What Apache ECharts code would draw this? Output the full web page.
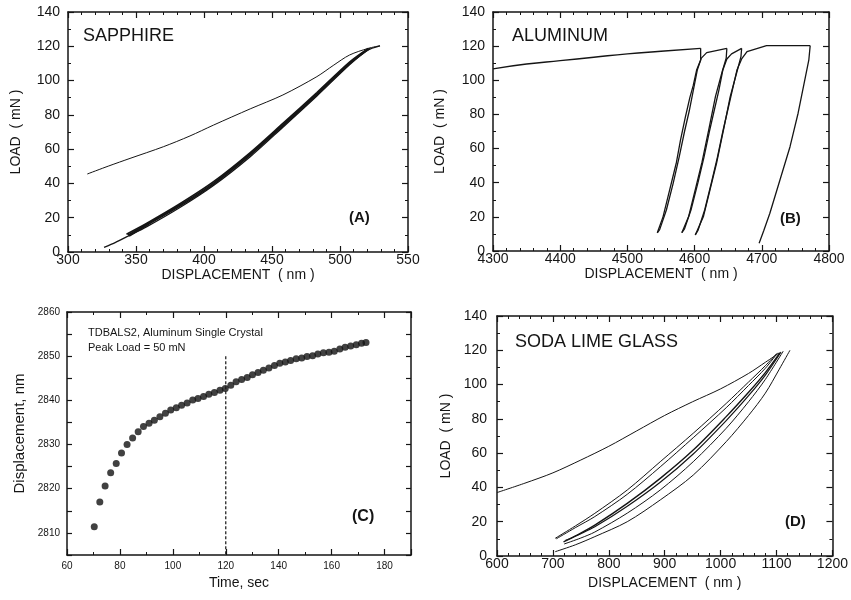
<!DOCTYPE html>
<html>
<head>
    <meta charset="utf-8">
    <title>Indentation load-displacement</title>
    <script src="https://cdn.jsdelivr.net/npm/echarts@6/dist/echarts.min.js"></script>
    <style>
        html, body { margin: 0; padding: 0; background: #fff; }
        #chart { width: 851px; height: 600px; }
    </style>
</head>
<body>
<div id="chart"></div>
<script>
    // (A) sapphire: loading line + unload/reload band
    var sapphireLoad = [[314.2,45.5],[330,50.2],[345.6,54.6],[370.1,61.4],[389.7,67.7],[406.9,74],[434,83.5],[458,91.6],[483,102.3],[495,108.8],[507,114.9],[520.8,118.8],[529.4,120.3]];
    var sapphireUnload1 = [[326.5,2.7],[335,5.6],[343,8.8],[358,14.8],[382,25.8],[407,38.8],[434,55.6],[458,72.8],[483,91],[507,109.2],[520,117.6],[529.4,120.3]];
    var sapphireUnload2 = [[343,10.4],[358,16.8],[382,28],[407,41],[434,58],[458,75],[483,93],[507,110.8],[520.8,118.8]];
    var sapphireUnload3 = [[344,9.8],[358,16.2],[382,27.3],[407,40.2],[434,57.2],[458,74.2],[483,92.2],[507,110.2],[521,118.6]];
    var sapphireUnload4 = [[345,9.3],[358,15.6],[382,26.6],[407,39.5],[434,56.5],[458,73.5],[483,91.6],[507,109.7],[522,118.8]];

    // (B) aluminum: creep holds + three unload/reload loops + final unload
    var aluminumLoad = [[4300,106.7],[4350,109.5],[4400,111.5],[4450,113.5],[4500,115.5],[4550,117],[4609,118.7]];
    var aluminumUnload1 = [[4609,118.7],[4609,111.9],[4603,106],[4598,97],[4593,90],[4586,78],[4579,65],[4573,52],[4563,36],[4553,20],[4544.5,10.7]];
    var aluminumReload1 = [[4544.5,10.7],[4548,12.5],[4558,24],[4568,39.5],[4577,55],[4585,70],[4592,82],[4598,94],[4604,106],[4610,113],[4618,116.2],[4648,118.7]];
    var aluminumUnload2 = [[4648,118.7],[4647,112.9],[4641,105],[4631,90.4],[4621,71],[4611,52],[4601,36],[4591,20],[4581,10.7]];
    var aluminumReload2 = [[4581,10.7],[4585,13],[4595,24.5],[4605,40],[4614,55],[4622,70],[4629,82],[4636,94],[4642,106],[4648,112.5],[4655,115.5],[4670,118.7]];
    var aluminumUnload3 = [[4670,118.7],[4669,113.9],[4663,105],[4653,90.4],[4643,71],[4633,52],[4623,36],[4613,20],[4601,9.4]];
    var aluminumReload3 = [[4601,9.4],[4605,12],[4615,24],[4625,40],[4634,55],[4642,70],[4649,82],[4656,94],[4663,106],[4670,112.5],[4678,116.8],[4707,120.3],[4772,120.3]];
    var aluminumFinal = [[4772,120.3],[4770,112],[4764,100.2],[4754,80.7],[4742,61.1],[4727,41.6],[4712,22.1],[4703,12],[4696,4.5]];

    // (C) creep at peak load
    var creepTime = [70.3,72.4,74.4,76.5,78.6,80.6,82.7,84.8,86.9,88.9,91.0,93.0,95.1,97.2,99.2,101.3,103.3,105.4,107.5,109.5,111.6,113.6,115.7,117.8,119.8,121.9,123.9,126.0,128.1,130.1,132.2,134.2,136.3,138.4,140.4,142.5,144.5,146.6,148.7,150.7,152.8,154.8,156.9,159.0,161.0,163.1,165.1,167.2,169.3,171.3,173.0];
    var creepDisp = [2811.4,2817.0,2820.6,2823.6,2825.7,2828.1,2830.0,2831.5,2832.9,2834.1,2834.8,2835.5,2836.3,2837.1,2837.8,2838.3,2838.9,2839.4,2840.1,2840.4,2840.9,2841.4,2841.8,2842.3,2842.7,2843.4,2844.2,2844.7,2845.2,2845.8,2846.3,2846.8,2847.3,2847.9,2848.4,2848.7,2849.0,2849.4,2849.6,2849.9,2850.1,2850.5,2850.8,2850.9,2851.1,2851.6,2852.0,2852.3,2852.6,2852.9,2853.1];
    var creepMarker = [[120,2850],[120,2805]];

    // (D) soda lime glass
    var glassLoad = [[600,37],[650,42.5],[700,48.5],[750,56],[800,64],[850,73],[900,82],[950,90],[1000,97.5],[1050,106.5],[1080,113],[1105,118.5]];
    var glassCycle1 = [[704,10.3],[740,17.5],[775,24.9],[833,38.5],[892,55],[951,71.6],[1010,89],[1050,101.5],[1080,111],[1100,118]];
    var glassCycle2 = [[706,10],[740,16.5],[775,23],[833,36],[892,52],[951,69],[1010,86.5],[1050,99.5],[1080,109.5],[1102,118.5]];
    var glassCycle3 = [[719,8.3],[745,12.5],[775,18],[833,30.7],[892,45.3],[951,61.8],[1010,81.3],[1050,95.5],[1080,107],[1106,118.5]];
    var glassCycle4 = [[722,9],[750,13],[775,17],[833,29],[892,43],[951,59.5],[1010,79],[1050,93.5],[1080,105.5],[1108,119]];
    var glassCycle5 = [[720,7],[750,10.5],[775,14],[833,25],[892,38.5],[951,55],[1010,74.5],[1050,90],[1080,103],[1112,119.5]];
    var glassCycle6 = [[704,2.5],[740,6.5],[775,11.3],[833,20],[892,32.7],[951,47.2],[1010,66.7],[1050,82],[1080,95],[1105,109],[1124,120]];

    var FONT = 'Liberation Sans, Arial, sans-serif';
    var INK = '#151515';

    var myChart = echarts.init(document.getElementById('chart'));

    function axis(pos, gi, min, max, interval, minor, labelSize, margin, name, nameGap) {
        var main = (pos === 'bottom' || pos === 'left');
        return {
            type: 'value', gridIndex: gi, position: pos,
            min: min, max: max, interval: interval,
            axisLine: {show: true, onZero: false, lineStyle: {color: INK, width: 1.5}},
            axisTick: {show: true, inside: true, length: 6, lineStyle: {color: INK, width: 1.2}},
            minorTick: {show: minor > 1, splitNumber: minor, length: 3, lineStyle: {color: INK, width: 1}},
            splitLine: {show: false},
            axisLabel: {
                show: main, fontSize: labelSize, color: INK, fontFamily: FONT, margin: margin,
                formatter: function (v) { return String(v); }
            },
            name: main ? name : '',
            nameLocation: 'middle', nameGap: nameGap,
            nameTextStyle: {fontSize: 14, color: INK, fontFamily: FONT}
        };
    }

    var xAxes = [
        axis('bottom', 0, 300, 550, 50, 5, 14, 1, 'DISPLACEMENT  ( nm )', 16),
        axis('bottom', 1, 4300, 4800, 100, 5, 14, 1, 'DISPLACEMENT  ( nm )', 16),
        axis('bottom', 2, 60, 190, 20, 2, 10, 6, 'Time, sec', 21),
        axis('bottom', 3, 600, 1200, 100, 5, 14, 1, 'DISPLACEMENT  ( nm )', 20),
        axis('top', 0, 300, 550, 50, 5),
        axis('top', 1, 4300, 4800, 100, 5),
        axis('top', 2, 60, 190, 20, 2),
        axis('top', 3, 600, 1200, 100, 5)
    ];
    xAxes[2].axisLabel.formatter = function (v) { return v % 20 === 0 ? String(v) : ''; };

    var yAxes = [
        axis('left', 0, 0, 140, 20, 2, 14, 8, 'LOAD  ( mN )', 45),
        axis('left', 1, 0, 140, 20, 2, 14, 8, 'LOAD  ( mN )', 46),
        axis('left', 2, 2805, 2860, 5, 0, 10, 7, 'Displacement, nm', 40),
        axis('left', 3, 0, 140, 20, 2, 14, 10, 'LOAD  ( mN )', 44),
        axis('right', 0, 0, 140, 20, 2),
        axis('right', 1, 0, 140, 20, 2),
        axis('right', 2, 2805, 2860, 5, 0),
        axis('right', 3, 0, 140, 20, 2)
    ];
    yAxes[2].axisLabel.formatter = function (v) { return v % 10 === 0 ? String(v) : ''; };
    yAxes[2].axisTick.length = 5;
    yAxes[6].axisTick.length = 5;
    yAxes[2].nameTextStyle.fontSize = 15;

    function curve(data, gi, w, smooth) {
        return {
            type: 'line', xAxisIndex: gi, yAxisIndex: gi, data: data,
            showSymbol: false, symbol: 'none', smooth: smooth, silent: true,
            lineStyle: {color: INK, width: w}
        };
    }

    var creepPoints = [];
    for (let i = 0; i < creepTime.length; i++) {
        creepPoints.push([creepTime[i], creepDisp[i]]);
    }

    var series = [
        curve(sapphireLoad, 0, 1, 0.3),
        curve(sapphireUnload1, 0, 1.3, 0.3),
        curve(sapphireUnload2, 0, 1.6, 0.3),
        curve(sapphireUnload3, 0, 1.6, 0.3),
        curve(sapphireUnload4, 0, 1.6, 0.3),

        curve(aluminumLoad, 1, 1.4, true),
        curve(aluminumUnload1, 1, 1.3, false),
        curve(aluminumReload1, 1, 1.3, false),
        curve(aluminumUnload2, 1, 1.3, false),
        curve(aluminumReload2, 1, 1.3, false),
        curve(aluminumUnload3, 1, 1.3, false),
        curve(aluminumReload3, 1, 1.3, false),
        curve(aluminumFinal, 1, 1.3, false),

        {
            type: 'scatter', xAxisIndex: 2, yAxisIndex: 2, data: creepPoints,
            symbol: 'circle', symbolSize: 7, silent: true,
            itemStyle: {color: '#111'}
        },
        {
            type: 'line', xAxisIndex: 2, yAxisIndex: 2, data: creepMarker,
            showSymbol: false, symbol: 'none', silent: true,
            lineStyle: {color: INK, width: 1.2, type: [3, 2]}
        },

        curve(glassLoad, 3, 1, 0.3),
        curve(glassCycle1, 3, 1, 0.3),
        curve(glassCycle2, 3, 1, 0.3),
        curve(glassCycle3, 3, 1.4, 0.3),
        curve(glassCycle4, 3, 1.2, 0.3),
        curve(glassCycle5, 3, 1, 0.3),
        curve(glassCycle6, 3, 1, 0.3)
    ];

    function label(text, x, y, size, weight) {
        return {
            type: 'text', left: x, top: y, silent: true,
            style: {text: text, fill: INK, font: (weight || 'normal') + ' ' + size + 'px ' + FONT}
        };
    }

    myChart.setOption({
        animation: false,
        backgroundColor: '#fff',
        grid: [
            {left: 68, top: 12, width: 340, height: 240},
            {left: 493, top: 12, width: 336, height: 239},
            {left: 67, top: 312, width: 344, height: 243},
            {left: 497, top: 316, width: 340, height: 240}
        ],
        xAxis: xAxes,
        yAxis: yAxes,
        series: series,
        graphic: [
            label('SAPPHIRE', 83, 27, 18),
            label('ALUMINUM', 512, 27, 18),
            label('SODA LIME GLASS', 515, 333, 18),
            label('(A)', 349, 210, 15, 'bold'),
            label('(B)', 780, 211, 15, 'bold'),
            label('(C)', 352, 509, 16, 'bold'),
            label('(D)', 785, 514, 15, 'bold'),
            label('TDBALS2, Aluminum Single Crystal', 88, 327, 11),
            label('Peak Load = 50 mN', 88, 342, 11)
        ]
    });
</script>
</body>
</html>
